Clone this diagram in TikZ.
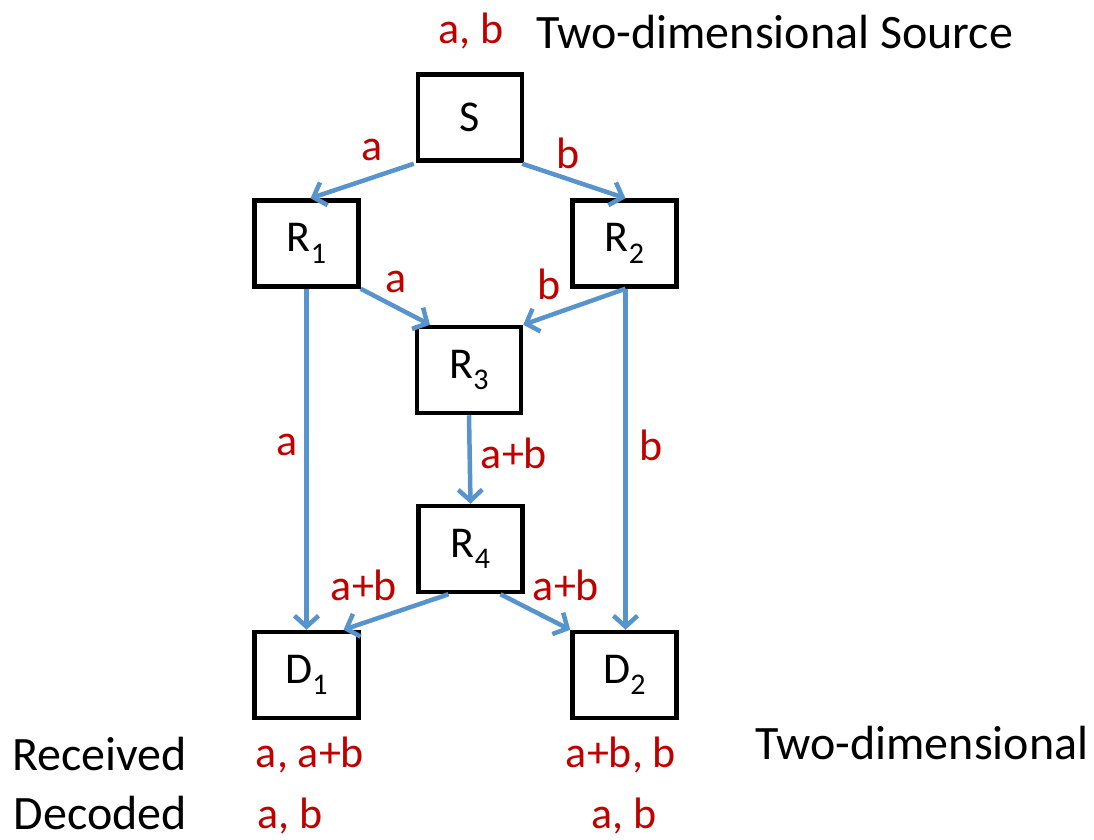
\documentclass[tikz,border=0pt]{standalone}
\usepackage{fontspec}
\setmainfont{Carlito}
\usetikzlibrary{arrows.meta}
\definecolor{edgeblue}{RGB}{88,148,204}
\definecolor{labred}{RGB}{192,0,0}
\newcommand{\mysub}[1]{\raisebox{-0.55ex}{\fontsize{30}{33}\selectfont #1}}
\tikzset{
  box/.style={draw=black, line width=4.5pt, minimum width=104pt, minimum height=86pt, inner sep=0pt, font=\fontsize{44}{48}\selectfont},
  link/.style={draw=edgeblue, line width=4.5pt, -{Straight Barb[length=11pt,width=24pt]}},
  lab/.style={text=labred, font=\fontsize{44}{48}\selectfont, inner sep=0pt},
  txt/.style={text=black, font=\fontsize{48}{52}\selectfont, inner sep=0pt},
}
\begin{document}
\begin{tikzpicture}[x=1pt,y=-1pt]
\useasboundingbox (0,0) rectangle (1094,839);
\node[box] (S) at (470,117.5) {S};
\node[box] (R1) at (306.5,243.5) {R\mysub{1}};
\node[box] (R2) at (624.5,243.5) {R\mysub{2}};
\node[box] (R3) at (469,370) {R\mysub{3}};
\node[box] (R4) at (470.5,549) {R\mysub{4}};
\node[box] (D1) at (306.5,675) {D\mysub{1}};
\node[box] (D2) at (624.5,675) {D\mysub{2}};
\draw[link] ([xshift=-2pt,yshift=-1pt]S.south west) -- ([xshift=4pt]R1.north);
\draw[link] ([xshift=-2pt,yshift=-1pt]S.south east) -- ([xshift=1pt]R2.north);
\draw[link] (R1.south east) -- ([xshift=-39pt]R3.north);
\draw[link] ([xshift=1pt]R2.south) -- (R3.north east);
\draw[link] (R1.south) -- (D1.north);
\draw[link] ([xshift=1pt]R2.south) -- ([xshift=1pt]D2.north);
\draw[link] (R3.south) -- (R4.north);
\draw[link] ([xshift=-22pt]R4.south) -- ([xshift=37pt]D1.north);
\draw[link] ([xshift=30pt]R4.south) -- (D2.north west);
\node[lab] (l1) at (372,150) {a};
\node[lab] (l2) at (568,153) {b};
\node[lab] (l3) at (396,282) {a};
\node[lab] (l4) at (549,284) {b};
\node[lab] (l5) at (287,445) {a};
\node[lab] (l6) at (651,445) {b};
\node[lab] (l7) at (514,453) {a+b};
\node[lab] (l8) at (364,585) {a+b};
\node[lab] (l9) at (566,585) {a+b};
\node[lab, anchor=base] (src) at (471,43) {a, b};
\node[txt, anchor=base west] (srct) at (536,48) {Two-dimensional Source};
\node[txt, anchor=base east] (rec) at (187,770) {Received};
\node[txt, anchor=base east] (dec) at (187,829) {Decoded};
\node[lab, anchor=base] (r1) at (310,767) {a, a+b};
\node[lab, anchor=base] (r2) at (621,767) {a+b, b};
\node[lab, anchor=base] (d1) at (290,828) {a, b};
\node[lab, anchor=base] (d2) at (624,828) {a, b};
\node[txt, anchor=base west] (tdim) at (755,759) {Two-dimensional};
\end{tikzpicture}
\end{document}
